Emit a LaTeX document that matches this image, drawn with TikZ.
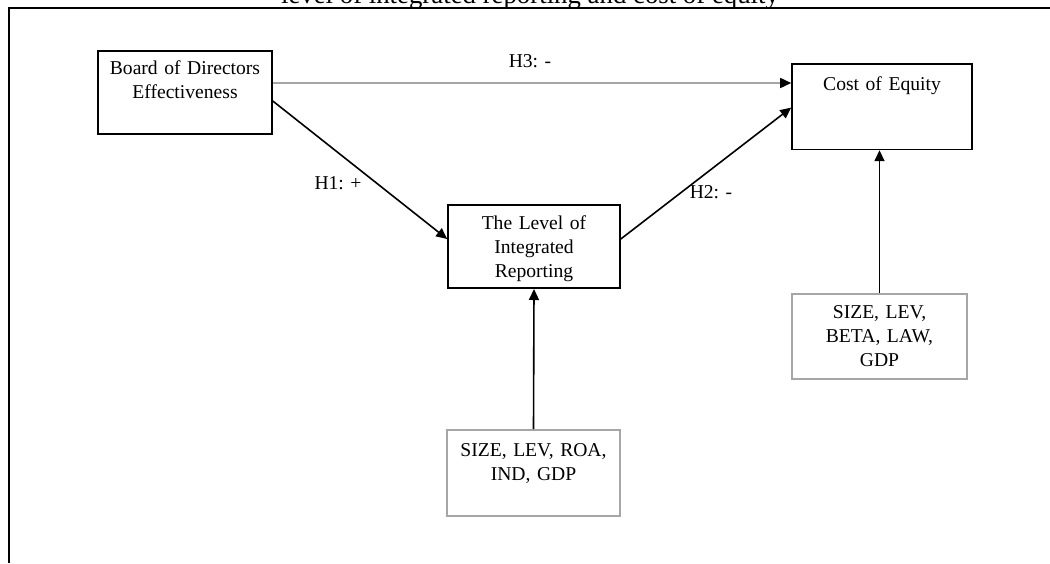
\documentclass[tikz,border=0pt]{standalone}
\usepackage{fontspec}
\setmainfont{Liberation Serif}
\usetikzlibrary{positioning, calc, arrows.meta}

\begin{document}
\begin{tikzpicture}[
    x=0.5pt, y=-0.5pt,
    box/.style={rectangle, draw=black, line width=0.8pt, inner xsep=0pt, align=center, anchor=north, font=\fontsize{9.8}{12}\selectfont},
    ctrl/.style={box, draw=gray!70},
    hlabel/.style={font=\fontsize{9.8}{12}\selectfont, inner sep=0pt},
    arrow/.style={-{Triangle[length=5.5pt, width=5pt, color=black]}, line width=0.8pt}
]
    \useasboundingbox (0,0) rectangle (1050,563);

    % caption and frame
    \node[anchor=base, font=\fontsize{13.4}{16}\selectfont, inner sep=0pt] (title) at (530,3) {level of integrated reporting and cost of equity};
    \draw[line width=1.2pt] (9,563) -- (9,8) -- (1050,8);

    % constructs
    \node[box, text width=87pt, inner ysep=4.8pt, text depth=25.2pt] (board) at (185,50) {Board of Directors\\Effectiveness};
    \node[box, text width=86pt, inner ysep=5.3pt, text depth=24.2pt] (level) at (534,204) {The Level of\\Integrated\\Reporting};
    \node[box, text width=90pt, inner ysep=6.35pt, text depth=23.2pt] (cost) at (882,63) {Cost of Equity};

    % controls
    \node[ctrl, text width=86.5pt, inner ysep=7pt, text depth=22.5pt] (ctrlir) at (533.5,429) {SIZE, LEV, ROA,\\IND, GDP};
    \node[ctrl, text width=87.5pt, inner ysep=6pt, text depth=24pt] (ctrlcoe) at (879.5,293) {SIZE, LEV,\\BETA, LAW,\\GDP};

    % hypotheses
    \coordinate (h3start) at ([yshift=4.75pt]board.east);
    \draw[arrow, gray!70] (h3start) -- (h3start -| cost.west);
    \draw[arrow] ([yshift=-4.25pt]board.east) -- ([yshift=3.75pt]level.west);
    \draw[arrow] ([yshift=3.75pt]level.east) -- ([yshift=-0.5pt]cost.west);
    \draw[arrow] (ctrlir.north) -- (level.south);
    \draw[arrow] (ctrlcoe.north) -- (ctrlcoe.north |- cost.south);

    \node[hlabel] (h3lab) at (530,61) {H3: -};
    \node[hlabel] (h1lab) at (338,183) {H1: +};
    \node[hlabel] (h2lab) at (711,192) {H2: -};

\end{tikzpicture}
\end{document}
